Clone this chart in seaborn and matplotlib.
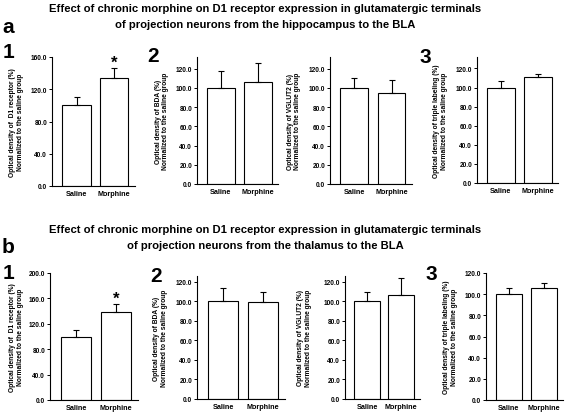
import matplotlib
matplotlib.use('Agg')
import matplotlib.pyplot as plt
import pandas as pd
import seaborn as sns

groups = ['Saline', 'Morphine']

# a: hippocampus -> BLA
hip_d1 = [100, 134]
hip_d1_sem = [10, 12]
hip_bda = [100, 106]
hip_bda_sem = [17, 20]
hip_vglut2 = [100, 95]
hip_vglut2_sem = [10, 13]
hip_triple = [100, 111]
hip_triple_sem = [7, 3.5]

# b: thalamus -> BLA
thal_d1 = [100, 139]
thal_d1_sem = [11, 12]
thal_bda = [100, 99]
thal_bda_sem = [14, 11]
thal_vglut2 = [100, 107]
thal_vglut2_sem = [10, 17]
thal_triple = [100, 105.5]
thal_triple_sem = [6, 5]

ylab_d1 = 'Optical density of  D1 receptor (%)\nNormalized to the saline group'
ylab_bda = 'Optical density of BDA (%)\nNormalized to the saline group'
ylab_vglut2 = 'Optical density of VGLUT2 (%)\nNormalized to the saline group'
ylab_triple = 'Optical density of triple labeling (%)\nNormalized to the saline group'

title_a = ('Effect of chronic morphine on D1 receptor expression in glutamatergic terminals\n'
           'of projection neurons from the hippocampus to the BLA')
title_b = ('Effect of chronic morphine on D1 receptor expression in glutamatergic terminals\n'
           'of projection neurons from the thalamus to the BLA')

sns.set_style('ticks')
plt.rcParams['font.family'] = ['Liberation Sans', 'DejaVu Sans']
plt.rcParams['font.weight'] = 'bold'
for key in ['text.color', 'axes.labelcolor', 'xtick.color', 'ytick.color', 'axes.edgecolor']:
    plt.rcParams[key] = 'black'

W, H = 567, 414
fig = plt.figure(figsize=(W / 100, H / 100), dpi=100)


def px_axes(x0, x1, y0, y1):
    return fig.add_axes([x0 / W, 1 - y1 / H, (x1 - x0) / W, (y1 - y0) / H])


def bar_panel(ax, means, sems, ymax, ystep, ylabel, label_off, star=False):
    df = pd.DataFrame({'group': groups, 'value': means})
    sns.barplot(data=df, x='group', y='value', ax=ax, color='white',
                edgecolor='black', linewidth=0.8, width=0.75, errorbar=None)
    ax.errorbar([0, 1], means, yerr=[[0, 0], sems], fmt='none', ecolor='black',
                elinewidth=0.8, capsize=2, capthick=0.8)
    if star:
        ax.text(1, means[1] + sems[1] - ymax * 0.01, '*', ha='center', va='bottom',
                fontsize=12, fontweight='bold')
    ax.set_ylim(0, ymax)
    ax.set_xlim(-0.65, 1.55)
    ticks = list(range(0, int(ymax) + 1, ystep))
    ax.set_yticks(ticks)
    ax.set_yticklabels([f'{t:.1f}' for t in ticks], fontsize=4.7, fontweight='bold')
    ax.set_xticks([0, 1])
    ax.set_xticklabels(groups, fontsize=5.2, fontweight='bold')
    ax.tick_params(axis='y', length=2, width=0.7, pad=1.5)
    ax.tick_params(axis='x', length=0, pad=3)
    ax.set_xlabel('')
    ax.set_ylabel(ylabel, fontsize=4.8, fontweight='bold', linespacing=1.1)
    # label anchor is its right edge, offset in pixels from the y axis
    w = ax.get_position().width * W
    ax.yaxis.set_label_coords(-label_off / w, 0.5)
    sns.despine(ax=ax)
    for s in ['left', 'bottom']:
        ax.spines[s].set_linewidth(0.8)


# top row (a)
ax = px_axes(52, 135, 58, 187)
bar_panel(ax, hip_d1, hip_d1_sem, 160, 40, ylab_d1, 28, star=True)
ax = px_axes(197, 278, 58, 185)
bar_panel(ax, hip_bda, hip_bda_sem, 132, 20, ylab_bda, 28)
ax = px_axes(330, 412, 58, 185)
bar_panel(ax, hip_vglut2, hip_vglut2_sem, 132, 20, ylab_vglut2, 29)
ax = px_axes(477, 558, 58, 184)
bar_panel(ax, hip_triple, hip_triple_sem, 132, 20, ylab_triple, 29)

# bottom row (b)
ax = px_axes(50, 138, 274, 401)
bar_panel(ax, thal_d1, thal_d1_sem, 200, 40, ylab_d1, 26, star=True)
ax = px_axes(197, 285, 277, 400)
bar_panel(ax, thal_bda, thal_bda_sem, 126, 20, ylab_bda, 29)
ax = px_axes(345, 420, 277, 400)
bar_panel(ax, thal_vglut2, thal_vglut2_sem, 126, 20, ylab_vglut2, 33)
ax = px_axes(486, 563, 274, 401)
bar_panel(ax, thal_triple, thal_triple_sem, 120, 20, ylab_triple, 28)

# titles and panel letters
fig.text(265 / W, 1 - 17 / H, title_a, ha='center', va='center', fontsize=8.1,
         fontweight='bold', linespacing=1.65)
fig.text(265 / W, 1 - 238 / H, title_b, ha='center', va='center', fontsize=8.1,
         fontweight='bold', linespacing=1.65)
fig.text(2 / W, 1 - 33 / H, 'a', fontsize=15, fontweight='bold', va='baseline')
fig.text(2 / W, 1 - 253 / H, 'b', fontsize=15, fontweight='bold', va='baseline')
for x, y, s in [(3, 58, '1'), (147, 62, '2'), (420, 63, '3'),
                (3, 279, '1'), (150, 282, '2'), (425, 280, '3')]:
    fig.text(x / W, 1 - y / H, s, fontsize=15, fontweight='bold', va='baseline')

fig.savefig('out.png', dpi=100)
